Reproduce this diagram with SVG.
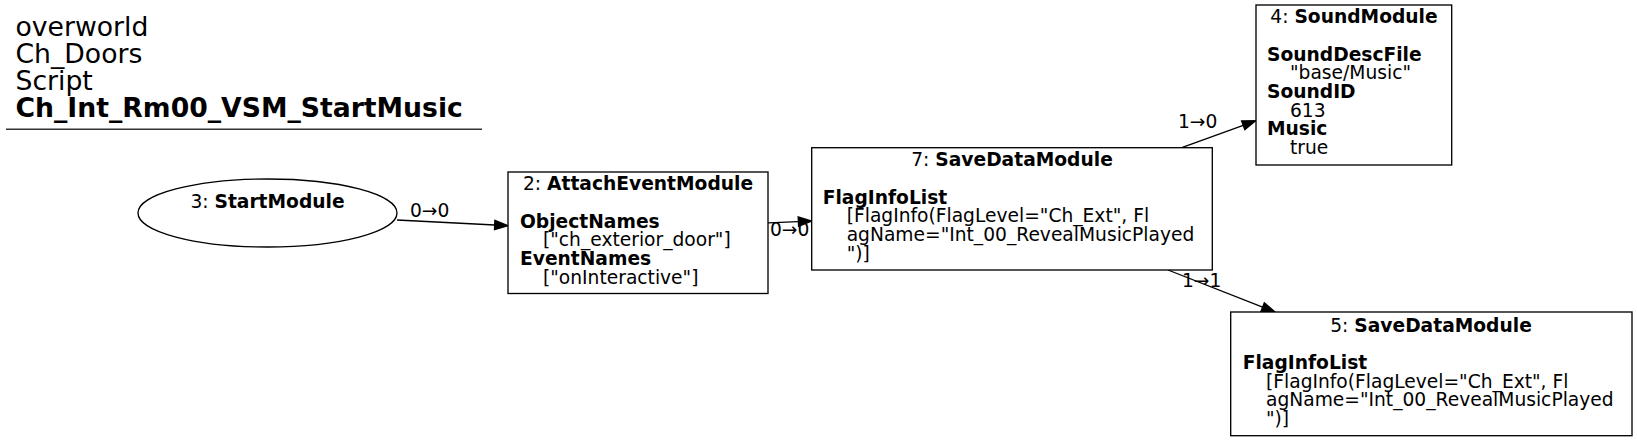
<svg xmlns="http://www.w3.org/2000/svg" width="1637" height="441" viewBox="0 0 1637 441">
<style>
text{font-family:"DejaVu Sans",sans-serif;font-size:18.67px;fill:#000}
.t{font-size:26.67px}
.b{font-weight:bold}
.c{text-anchor:middle}
.n{fill:#fff;stroke:#000;stroke-width:1.33}
.e{fill:none;stroke:#000;stroke-width:1.33}
.h{fill:#000;stroke:#000;stroke-width:1.33}
</style>
<rect width="1637" height="441" fill="#fff"/>
<g id="title">
<text class="t" x="15.5" y="36">overworld</text>
<text class="t" x="15.5" y="63">Ch_Doors</text>
<text class="t" x="15.5" y="90">Script</text>
<text class="t b" x="15.5" y="117">Ch_Int_Rm00_VSM_StartMusic</text>
<line x1="6" y1="129.3" x2="482" y2="129.3" stroke="#333" stroke-width="1.5"/>
</g>
<g id="connectors">
<path class="e" d="M397,220 L494.7,225"/>
<polygon class="h" points="494.9,220.3 508,225.7 494.5,229.7"/>
<text x="410" y="217">0→0</text>
<path class="e" d="M768,222.9 L798.4,221.6"/>
<polygon class="h" points="798.2,216.9 811.7,221 798.6,226.3"/>
<text x="770" y="236">0→0</text>
<path class="e" d="M1181.7,147.7 L1243.2,125.3"/>
<polygon class="h" points="1241.6,120.9 1255.7,120.7 1244.8,129.7"/>
<text x="1178" y="128.3">1→0</text>
<path class="e" d="M1168,270 L1262.6,307.1"/>
<polygon class="h" points="1264.3,302.8 1275,312 1260.9,311.5"/>
<text x="1182" y="286.7">1→1</text>
</g>
<g id="node3">
<ellipse class="n" cx="267.5" cy="213" rx="129.5" ry="34"/>
<text class="c" x="267.5" y="208">3: <tspan class="b">StartModule</tspan></text>
</g>
<g id="node2">
<rect class="n" x="508" y="172" width="260" height="121.5"/>
<text class="c" x="638" y="190.3">2: <tspan class="b">AttachEventModule</tspan></text>
<text class="b" x="520" y="227.7">ObjectNames</text>
<text x="543" y="246.3">["ch_exterior_door"]</text>
<text class="b" x="520" y="265">EventNames</text>
<text x="543" y="283.7">["onInteractive"]</text>
</g>
<g id="node7">
<rect class="n" x="811.7" y="147.7" width="400.6" height="122.3"/>
<text class="c" x="1012" y="166.3">7: <tspan class="b">SaveDataModule</tspan></text>
<text class="b" x="822.7" y="203.7">FlagInfoList</text>
<text x="846.7" y="222.3">[FlagInfo(FlagLevel="Ch_Ext", Fl</text>
<text x="846.7" y="241">agName="Int_00_RevealMusicPlayed</text>
<text x="846.7" y="259.7">")]</text>
</g>
<g id="node4">
<rect class="n" x="1256" y="5" width="195.7" height="160"/>
<text class="c" x="1354" y="23.3">4: <tspan class="b">SoundModule</tspan></text>
<text class="b" x="1267" y="60.7">SoundDescFile</text>
<text x="1290" y="79.3">"base/Music"</text>
<text class="b" x="1267" y="98">SoundID</text>
<text x="1290" y="116.7">613</text>
<text class="b" x="1267" y="135.3">Music</text>
<text x="1290" y="154">true</text>
</g>
<g id="node5">
<rect class="n" x="1230.7" y="312" width="401.3" height="123.7"/>
<text class="c" x="1431" y="331.7">5: <tspan class="b">SaveDataModule</tspan></text>
<text class="b" x="1242.7" y="369">FlagInfoList</text>
<text x="1266" y="387.7">[FlagInfo(FlagLevel="Ch_Ext", Fl</text>
<text x="1266" y="406.3">agName="Int_00_RevealMusicPlayed</text>
<text x="1266" y="425">")]</text>
</g>
</svg>
